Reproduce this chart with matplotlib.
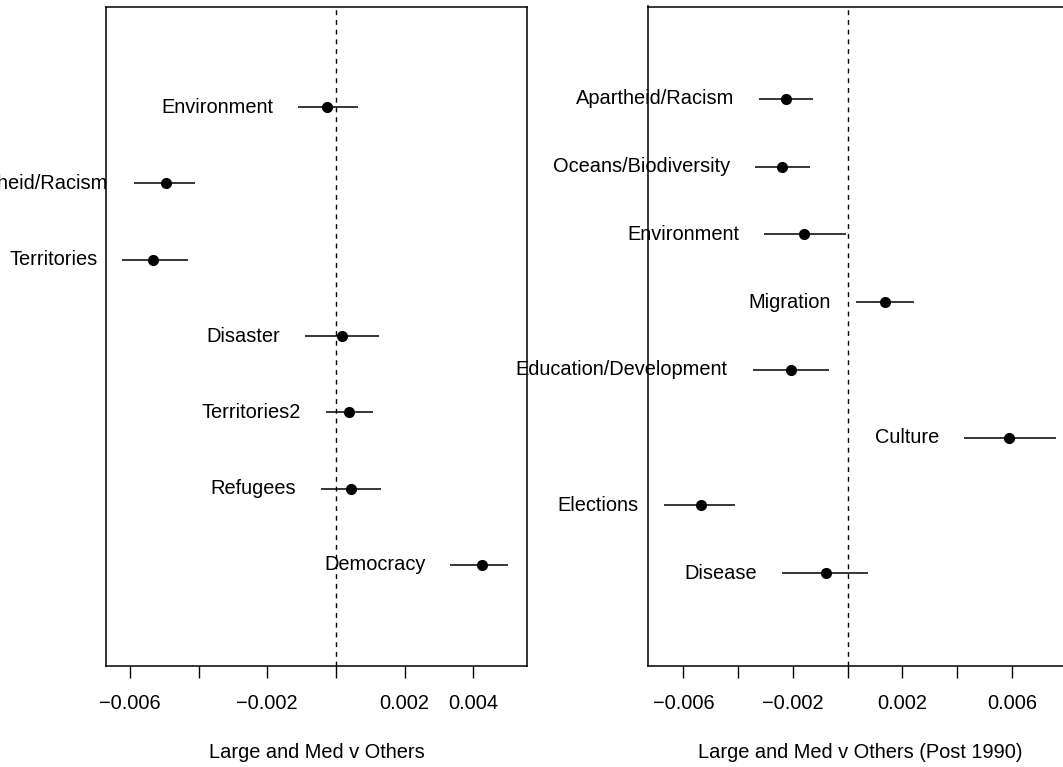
import matplotlib
matplotlib.use("Agg")
import matplotlib.pyplot as plt

plt.rcParams['font.family'] = ['Liberation Sans', 'DejaVu Sans']

# left panel: all years
left_labels = ['Environment', 'Apartheid/Racism', 'Territories', 'Disaster',
               'Territories2', 'Refugees', 'Democracy']
left_est = [-0.000256, -0.004952, -0.005316, 0.000166, 0.000378, 0.000445, 0.004250]
left_lo = [-0.001101, -0.005889, -0.006221, -0.000911, -0.000300, -0.000446, 0.003328]
left_hi = [0.000649, -0.004119, -0.004299, 0.001243, 0.001069, 0.001301, 0.005007]

# right panel: post 1990
right_labels = ['Apartheid/Racism', 'Oceans/Biodiversity', 'Environment', 'Migration',
                'Education/Development', 'Culture', 'Elections', 'Disease']
right_est = [-0.002256, -0.002402, -0.001583, 0.001378, -0.002059, 0.005883, -0.005349, -0.000779]
right_lo = [-0.003229, -0.003375, -0.003046, 0.000314, -0.003466, 0.004252, -0.006720, -0.002388]
right_hi = [-0.001254, -0.001386, -0.000070, 0.002420, -0.000673, 0.007609, -0.004099, 0.000760]

left_ticks = [-0.006, -0.004, -0.002, 0.0, 0.002, 0.004]
left_ticklabels = ['\u22120.006', '', '\u22120.002', '', '0.002', '0.004']
right_ticks = [-0.006, -0.004, -0.002, 0.0, 0.002, 0.004, 0.006]
right_ticklabels = ['\u22120.006', '', '\u22120.002', '', '0.002', '', '0.006']

W, H = 1063, 767
fig = plt.figure(figsize=(W / 100, H / 100), dpi=100)
ax1 = fig.add_axes([106 / W, 1 - 665.5 / H, 421 / W, 659 / H])
ax2 = fig.add_axes([648 / W, 1 - 665.5 / H, 423.5 / W, 659 / H])


def panel(ax, labels, est, lo, hi, ticks, ticklabels, xlim, xlabel):
    n = len(labels)
    ys = list(range(n, 0, -1))
    ax.axvline(0, color='black', lw=1.0, dashes=(3.5, 3.5), zorder=1)
    ax.hlines(ys, lo, hi, color='black', lw=1.1, zorder=2)
    ax.plot(est, ys, 'o', color='black', ms=7, zorder=3)
    # labels sit left of each interval and are allowed to spill outside the box
    for lab, l, y in zip(labels, lo, ys):
        ax.annotate(lab, xy=(l, y), xytext=(-18, 0), textcoords='offset points',
                    ha='right', va='center', fontsize=14.4, annotation_clip=False,
                    zorder=5)
    ax.set_xlim(*xlim)
    ax.set_ylim(-0.04 * (n + 1), (n + 1) * 1.04)
    ax.set_yticks([])
    ax.set_xticks(ticks)
    ax.set_xticklabels(ticklabels, fontsize=14.4)
    ax.tick_params(axis='x', length=8.3, width=1.0, pad=12)
    ax.set_xlabel(xlabel, fontsize=14.4, labelpad=22)
    for s in ax.spines.values():
        s.set_linewidth(1.1)


panel(ax1, left_labels, left_est, left_lo, left_hi, left_ticks, left_ticklabels,
      (-0.006696, 0.00556), 'Large and Med v Others')
panel(ax2, right_labels, right_est, right_lo, right_hi, right_ticks, right_ticklabels,
      (-0.007293, 0.008182), 'Large and Med v Others (Post 1990)')

fig.savefig('out.png', dpi=100)
